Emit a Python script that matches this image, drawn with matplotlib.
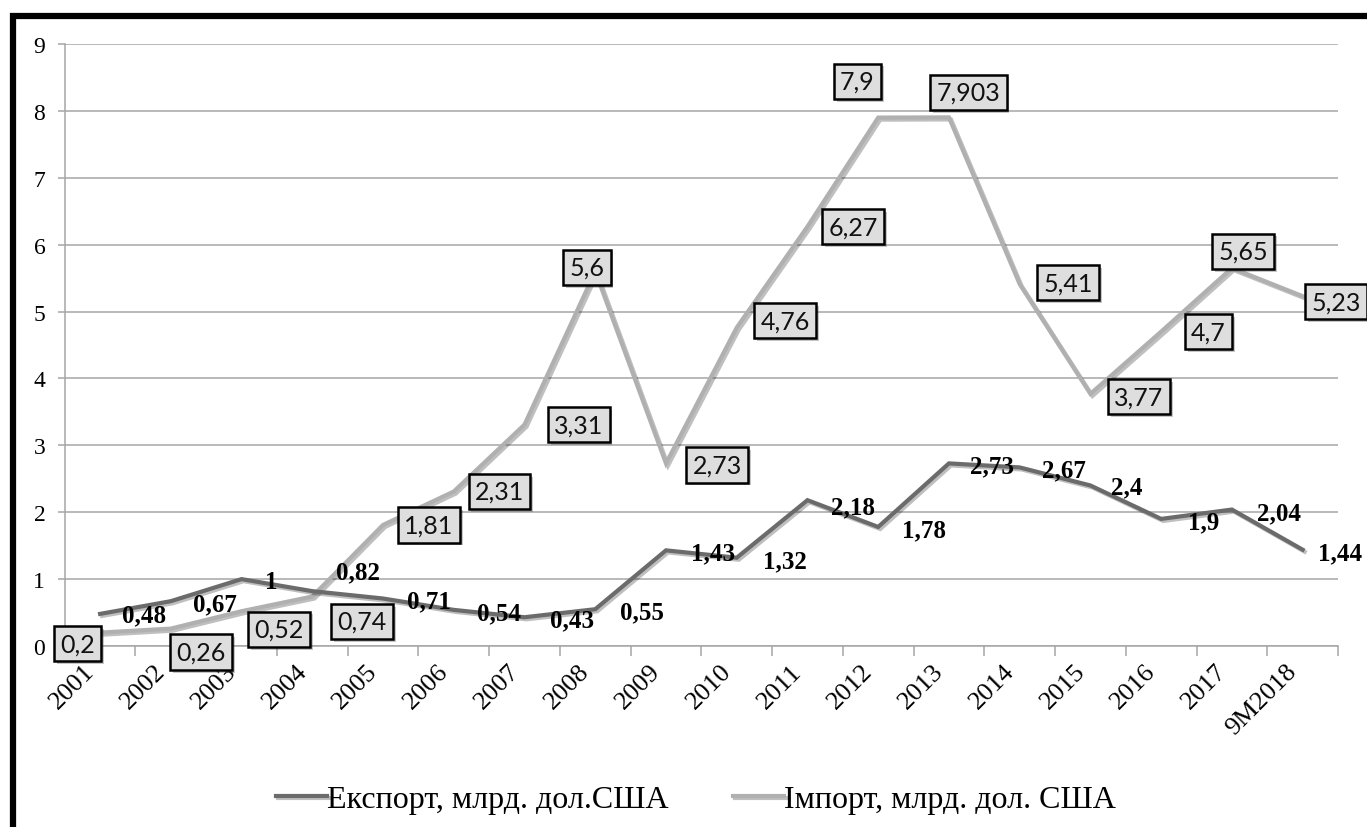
import matplotlib
matplotlib.use("Agg")
import matplotlib.pyplot as plt
import matplotlib.patheffects as pe
from matplotlib.patches import Rectangle
from matplotlib.transforms import ScaledTranslation
import numpy as np

categories = ["2001", "2002", "2003", "2004", "2005", "2006", "2007", "2008", "2009",
              "2010", "2011", "2012", "2013", "2014", "2015", "2016", "2017", "9M2018"]
export_vals = [0.48, 0.67, 1.0, 0.82, 0.71, 0.54, 0.43, 0.55, 1.43, 1.32, 2.18, 1.78,
               2.73, 2.67, 2.4, 1.9, 2.04, 1.44]
export_labels = ["0,48", "0,67", "1", "0,82", "0,71", "0,54", "0,43", "0,55", "1,43", "1,32",
                 "2,18", "1,78", "2,73", "2,67", "2,4", "1,9", "2,04", "1,44"]
import_vals = [0.2, 0.26, 0.52, 0.74, 1.81, 2.31, 3.31, 5.6, 2.73, 4.76, 6.27, 7.9,
               7.903, 5.41, 3.77, 4.7, 5.65, 5.23]
import_labels = ["0,2", "0,26", "0,52", "0,74", "1,81", "2,31", "3,31", "5,6", "2,73", "4,76",
                 "6,27", "7,9", "7,903", "5,41", "3,77", "4,7", "5,65", "5,23"]
yticks = list(range(0, 10))
legend_names = ["Експорт, млрд. дол.США", "Імпорт, млрд. дол. США"]

# label offsets in points (dx, dy): style only
exp_off = [(16, -1), (16, -2), (17, -2), (17, 14), (17, -2), (17, -2), (18, -2), (18, -2),
           (18, -2), (19, -2), (17, -5), (17, -2), (15, -2), (16, -2), (15, -1), (19, -2),
           (18, -2), (11, -2)]
# import boxes: center offsets (dx, dy) in points
imp_off = [(-16, -8), (22, -17), (27, -13), (36, -18), (33, 0), (33, 0), (39, 0), (-6, 3),
           (37, -1), (35, 5), (33, 0), (-15, 26), (14, 18), (35, 1), (35, -2), (34, 0),
           (8, 12), (24, -4)]

W, H = 1367, 828
fig = plt.figure(figsize=(W / 100, H / 100), dpi=100)
plt.rcParams['font.family'] = ['Liberation Serif', 'DejaVu Serif']

ax = fig.add_axes([64.7 / W, 1 - 647 / H, (1338 - 64.7) / W, (647 - 45) / H])
x = np.arange(len(categories))
ax.set_xlim(-0.5, len(categories) - 0.5)
ax.set_ylim(0, 9)

grid_c = "#a6a6a6"
ax.set_yticks(yticks)
ax.set_yticklabels([str(v) for v in yticks], fontsize=17)
ax.yaxis.grid(True, color=grid_c, linewidth=1.1)
ax.set_axisbelow(True)
for s in ["top", "right"]:
    ax.spines[s].set_visible(False)
ax.spines["left"].set_color(grid_c)
ax.spines["bottom"].set_color(grid_c)
ax.spines["left"].set_linewidth(1.1)
ax.spines["bottom"].set_linewidth(1.1)
ax.tick_params(axis="y", length=5, color=grid_c, width=1.1, pad=9)

ax.set_xticks(np.arange(len(categories) + 1) - 0.5)
ax.set_xticklabels([])
ax.tick_params(axis="x", which="major", length=7, color=grid_c, width=1.1)
ax.set_xticks(x, minor=True)
ax.set_xticklabels(categories, minor=True, rotation=45, ha="right", va="top",
                   rotation_mode="anchor", fontsize=19)
ax.tick_params(axis="x", which="minor", length=0, pad=10)
for lbl in ax.get_xticklabels(minor=True):
    lbl.set_transform(lbl.get_transform() + ScaledTranslation(-12 / 72, 0, fig.dpi_scale_trans))

shadow = [pe.SimpleLineShadow(offset=(1.5, -1.5), alpha=0.25), pe.Normal()]
l1, = ax.plot(x, export_vals, color="#6b6b6b", linewidth=3.0, solid_joinstyle="miter",
              path_effects=shadow, zorder=3)
l2, = ax.plot(x, import_vals, color="#b0b0b0", linewidth=3.0, solid_joinstyle="miter",
              path_effects=shadow, zorder=2)

for xi, v, lab, off in zip(x, export_vals, export_labels, exp_off):
    ax.annotate(lab, (xi, v), xytext=off, textcoords="offset points", ha="left",
                va="center", fontsize=18, fontweight="bold", color="black", zorder=5)

for xi, v, lab, off in zip(x, import_vals, import_labels, imp_off):
    t = ax.annotate(lab, (xi, v), xytext=off, textcoords="offset points", ha="center",
                    va="center", fontsize=18, family=["Lato", "DejaVu Sans"], color="#111111",
                    zorder=6,
                    bbox=dict(boxstyle="square,pad=0.25", facecolor="#dedede",
                              edgecolor="black", linewidth=1.8))
    t.get_bbox_patch().set_path_effects([pe.SimplePatchShadow(offset=(2, -2), alpha=0.3),
                                         pe.Normal()])

fig.legend([l1, l2], legend_names, loc="center", bbox_to_anchor=(696 / W, 1 - 800 / H),
           ncol=2, frameon=False, fontsize=23, handlelength=1.6, handletextpad=0.0,
           columnspacing=2.0)

# outer border
fig.add_artist(Rectangle((13 / W, -0.1), 1.2, 1 - 17 / H + 0.1, transform=fig.transFigure,
                         fill=False, edgecolor="black", linewidth=4.5, clip_on=False))

fig.savefig("out.png", dpi=100)
